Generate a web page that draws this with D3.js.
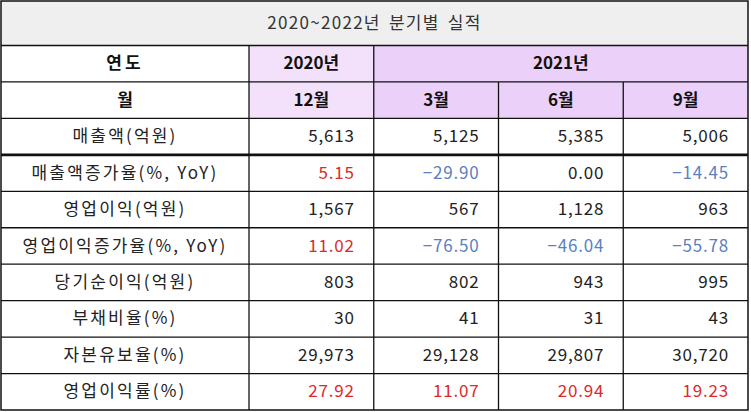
<!DOCTYPE html>
<html><head><meta charset="utf-8">
<script src="https://cdn.jsdelivr.net/npm/d3@7"></script>
<style>
html,body{margin:0;padding:0;background:#fff;}
svg{display:block;}
text{font-family:"Noto Sans CJK KR","Noto Sans",sans-serif;}
</style></head><body>
<svg id="chart" width="751" height="412"></svg>
<script>
const title = "2020~2022년 분기별 실적";
const headerLabels = ["연도", "월"];
const years = ["2020년", "2021년"];
const yearSpans = [1, 3];
const months = ["12월", "3월", "6월", "9월"];
const metrics = ["매출액(억원)", "매출액증가율(%, YoY)", "영업이익(억원)", "영업이익증가율(%, YoY)",
  "당기순이익(억원)", "부채비율(%)", "자본유보율(%)", "영업이익률(%)"];
const salesValues = [5613, 5125, 5385, 5006];
const salesGrowth = [5.15, -29.90, 0.00, -14.45];
const opProfit = [1567, 567, 1128, 963];
const opProfitGrowth = [11.02, -76.50, -46.04, -55.78];
const netIncome = [803, 802, 943, 995];
const debtRatio = [30, 41, 31, 43];
const reserveRatio = [29973, 29128, 29807, 30720];
const opMargin = [27.92, 11.07, 20.94, 19.23];
const rows = [salesValues, salesGrowth, opProfit, opProfitGrowth, netIncome, debtRatio, reserveRatio, opMargin];
const decimalRows = new Set([1, 3, 7]);
const signColoredRows = new Set([1, 3]);
const redRows = new Set([7]);

const svg = d3.select("#chart");
const L = 1, R = 748, T = 1, B = 410;
const labelW = 248;
const titleH = 44.5;
const x = d3.scaleBand().domain(months).range([L + labelW, R]);
const rowKeys = ["year", "month", ...metrics];
const y = d3.scaleBand().domain(rowKeys).range([T + titleH, B]);

const RED = "#dc2a2a", BLUE = "#5b7fbf";
const fmtInt = d3.format(",");
const fmtDec = d3.format(".2f");

// title
svg.append("rect").attr("x", L).attr("y", T).attr("width", R - L).attr("height", titleH).attr("fill", "#efefef");
svg.append("text").attr("x", (L + R) / 2).attr("y", T + titleH / 2 + 1)
  .attr("text-anchor", "middle").attr("dominant-baseline", "middle")
  .attr("font-size", 17).attr("fill", "#333").attr("letter-spacing", 1.3)
  .attr("word-spacing", 3).text(title);

// header backgrounds
let col = 0;
years.forEach((yr, i) => {
  const x0 = x(months[col]);
  const x1 = x(months[col + yearSpans[i] - 1]) + x.bandwidth();
  const fill = i === 0 ? "#f3e1fb" : "#ebd0fa";
  svg.append("rect").attr("x", x0).attr("y", y("year")).attr("width", x1 - x0)
    .attr("height", y.bandwidth() * 2).attr("fill", fill);
  svg.append("text").attr("x", (x0 + x1) / 2).attr("y", y("year") + y.bandwidth() / 2 + 1)
    .attr("text-anchor", "middle").attr("dominant-baseline", "middle")
    .attr("font-size", 17).attr("font-weight", "bold").attr("fill", "#111").text(yr);
  col += yearSpans[i];
});
months.forEach(m => {
  svg.append("text").attr("x", x(m) + x.bandwidth() / 2).attr("y", y("month") + y.bandwidth() / 2 + 1)
    .attr("text-anchor", "middle").attr("dominant-baseline", "middle")
    .attr("font-size", 17).attr("font-weight", "bold").attr("fill", "#111").text(m);
});
["year", "month"].forEach((k, i) => {
  svg.append("text").attr("x", L + labelW / 2).attr("y", y(k) + y.bandwidth() / 2 + 1)
    .attr("text-anchor", "middle").attr("dominant-baseline", "middle")
    .attr("font-size", 17).attr("font-weight", "bold").attr("fill", "#111")
    .attr("letter-spacing", i === 0 ? 3 : 0).text(headerLabels[i]);
});

// row labels
svg.selectAll("text.lab").data(metrics).enter().append("text").attr("class", "lab")
  .attr("x", L + labelW / 2).attr("y", d => y(d) + y.bandwidth() / 2 + 1)
  .attr("text-anchor", "middle").attr("dominant-baseline", "middle")
  .attr("font-size", 17).attr("fill", "#222").attr("letter-spacing", 2.2).text(d => d);

// values
rows.forEach((vals, ri) => {
  const m = metrics[ri];
  svg.selectAll("text.v" + ri).data(vals).enter().append("text").attr("class", "v" + ri)
    .attr("x", (d, i) => x(months[i]) + x.bandwidth() - 19)
    .attr("y", y(m) + y.bandwidth() / 2 + 1)
    .attr("text-anchor", "end").attr("dominant-baseline", "middle")
    .attr("font-size", 17).attr("letter-spacing", 0.8)
    .attr("fill", d => redRows.has(ri) ? RED : signColoredRows.has(ri) ? (d > 0 ? RED : d < 0 ? BLUE : "#222") : "#222")
    .text(d => decimalRows.has(ri) ? fmtDec(d) : fmtInt(d));
});

// grid lines
const g = svg.append("g").attr("stroke", "#111").attr("fill", "none");
rowKeys.forEach(k => {
  const yy = y(k);
  g.append("line").attr("x1", L).attr("x2", R).attr("y1", yy).attr("y2", yy)
    .attr("stroke-width", k === metrics[1] ? 2.6 : 1.3);
});
g.append("line").attr("x1", L + labelW).attr("x2", L + labelW).attr("y1", y("year")).attr("y2", B).attr("stroke-width", 1.3);
months.forEach((m, i) => {
  if (i === 0) return;
  const xx = x(m);
  const y0 = i === 1 ? y("year") : y("month");
  g.append("line").attr("x1", xx).attr("x2", xx).attr("y1", y0).attr("y2", B).attr("stroke-width", 1.3);
});
g.append("rect").attr("x", L).attr("y", T).attr("width", R - L).attr("height", B - T).attr("stroke-width", 1.5);
</script>
</body></html>
